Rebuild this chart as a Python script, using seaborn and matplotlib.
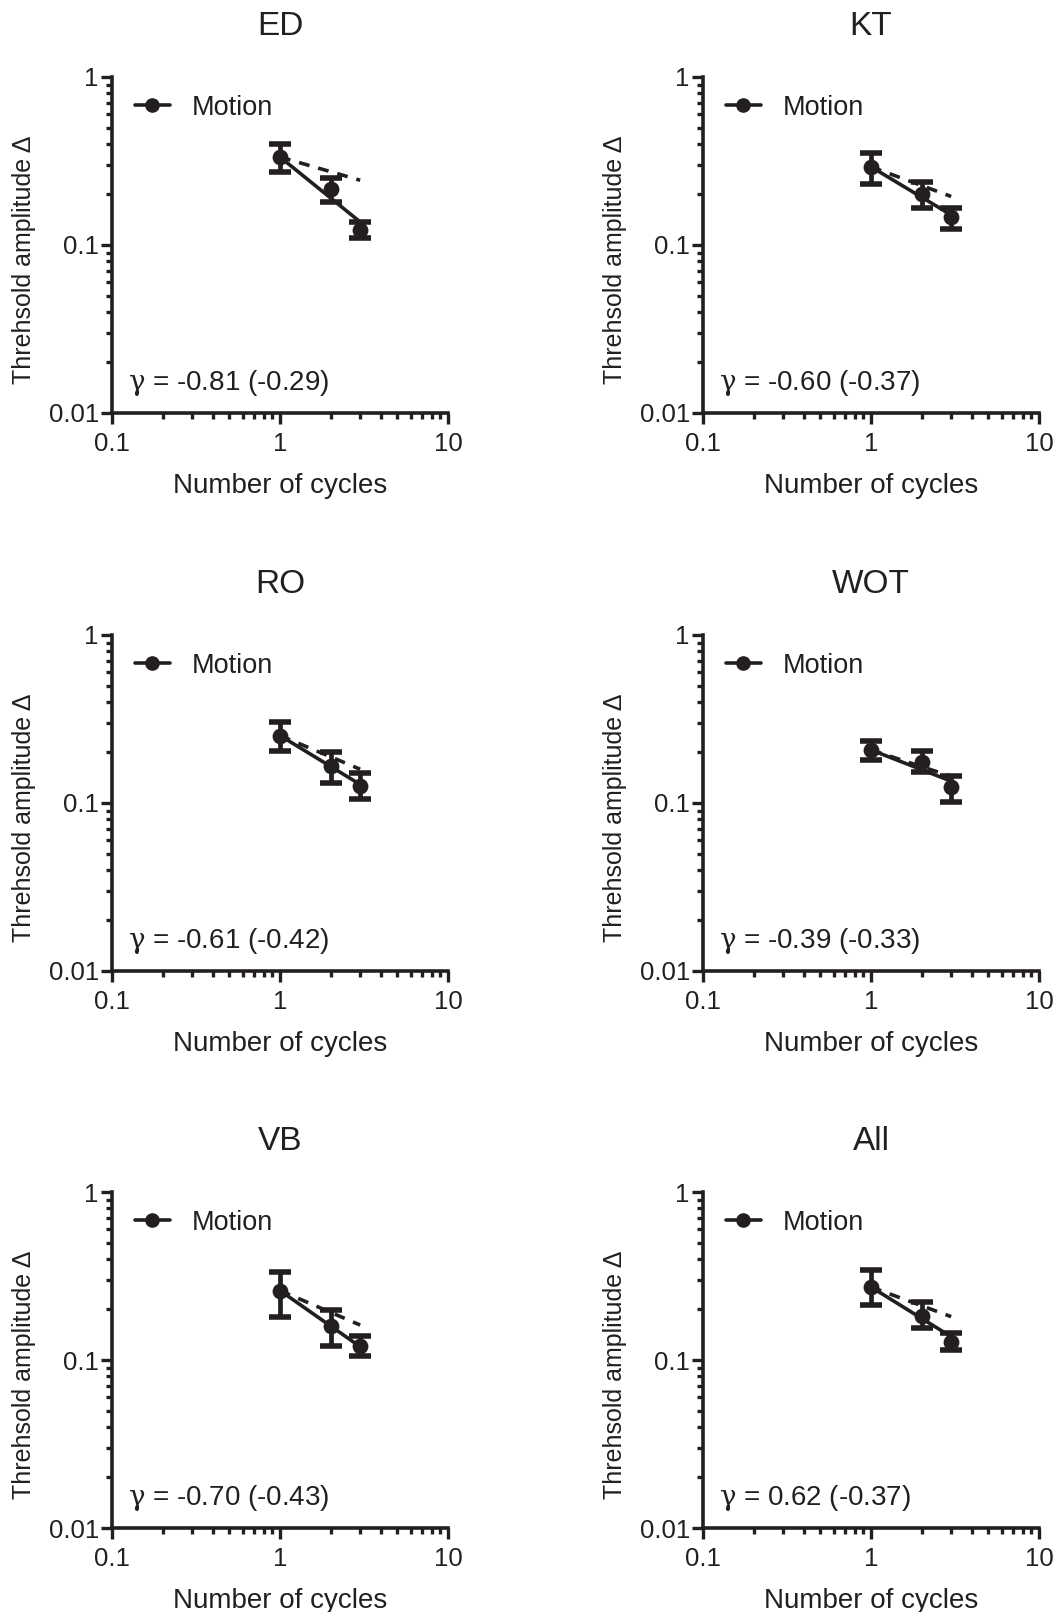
import numpy as np
import pandas as pd
import matplotlib
matplotlib.use("Agg")
import matplotlib.pyplot as plt
import seaborn as sns
from matplotlib.lines import Line2D
from matplotlib.ticker import LogLocator, FixedLocator, FixedFormatter, NullFormatter

sns.set_theme(style="ticks")
plt.rcParams['font.family'] = ['Liberation Sans', 'DejaVu Sans']
plt.rcParams['mathtext.fontset'] = 'custom'
plt.rcParams['mathtext.it'] = 'DejaVu Serif'
plt.rcParams['mathtext.rm'] = 'Liberation Sans'

INK = '#231f20'

panels = ['ED', 'KT', 'RO', 'WOT', 'VB', 'All']
cycles = [1, 2, 3]
means = {
    'ED':  [0.334, 0.215, 0.123],
    'KT':  [0.292, 0.201, 0.146],
    'RO':  [0.252, 0.166, 0.126],
    'WOT': [0.207, 0.175, 0.124],
    'VB':  [0.259, 0.159, 0.121],
    'All': [0.272, 0.184, 0.128],
}
upper = {
    'ED':  [0.400, 0.250, 0.137],
    'KT':  [0.353, 0.237, 0.166],
    'RO':  [0.303, 0.201, 0.151],
    'WOT': [0.234, 0.204, 0.145],
    'VB':  [0.336, 0.199, 0.139],
    'All': [0.345, 0.222, 0.145],
}
lower = {
    'ED':  [0.272, 0.180, 0.110],
    'KT':  [0.231, 0.166, 0.124],
    'RO':  [0.204, 0.131, 0.106],
    'WOT': [0.180, 0.153, 0.101],
    'VB':  [0.180, 0.121, 0.106],
    'All': [0.212, 0.155, 0.114],
}
gamma = {'ED': -0.81, 'KT': -0.60, 'RO': -0.61, 'WOT': -0.39, 'VB': -0.70, 'All': -0.62}
gamma_ref = {'ED': -0.29, 'KT': -0.37, 'RO': -0.42, 'WOT': -0.33, 'VB': -0.43, 'All': -0.37}
gamma_text = {
    'ED': '-0.81 (-0.29)', 'KT': '-0.60 (-0.37)', 'RO': '-0.61 (-0.42)',
    'WOT': '-0.39 (-0.33)', 'VB': '-0.70 (-0.43)', 'All': '0.62 (-0.37)',
}
fit_range = [1, 3]

FS_LAB = 19.5
FS_XLAB = 20
FS_TITLE = 24
FS_Y = 18
FS_TICK = 18.5
W, H = 1055, 1612
fig = plt.figure(figsize=(W / 100, H / 100), dpi=100)

col_x = [112, 703]
row_bottom = [413, 971, 1528]
size = 336

for i, name in enumerate(panels):
    r, c = divmod(i, 2)
    left = col_x[c] / W
    bottom = 1 - row_bottom[r] / H
    ax = fig.add_axes([left, bottom, size / W, size / H])
    ax.set_xscale('log')
    ax.set_yscale('log')
    ax.set_xlim(0.1, 10)
    ax.set_ylim(0.01, 1)

    m = np.array(means[name])
    up = np.array(upper[name])
    lo = np.array(lower[name])
    df = pd.DataFrame({'x': cycles, 'y': m})

    # fitted power-law lines
    a = m[0]
    xf = np.array(fit_range, dtype=float)
    fit_df = pd.DataFrame({'x': xf, 'y': a * xf ** gamma[name]})
    ref_df = pd.DataFrame({'x': xf, 'y': a * xf ** gamma_ref[name]})
    sns.lineplot(data=ref_df, x='x', y='y', ax=ax, color=INK, lw=2.6,
                 linestyle=(0, (3, 2.5)), zorder=2, legend=False)
    sns.lineplot(data=fit_df, x='x', y='y', ax=ax, color=INK, lw=2.6, zorder=2, legend=False)

    ax.errorbar(cycles, m, yerr=[m - lo, up - m], fmt='none', ecolor=INK,
                elinewidth=3.4, capsize=8, capthick=4, zorder=3)
    sns.scatterplot(data=df, x='x', y='y', ax=ax, color=INK, s=130,
                    edgecolor=INK, linewidth=0, zorder=4, legend=False)

    h = Line2D([], [], color=INK, lw=2.6, marker='o', markersize=9.5)
    ax.legend([h], ['Motion'], loc='center left', bbox_to_anchor=(0.068, 0.908),
              frameon=False, fontsize=FS_LAB, handlelength=1.3, handletextpad=0.8,
              borderpad=0, borderaxespad=0, labelcolor=INK)

    ax.text(0.048, 0.09, r'$\gamma$ = ' + gamma_text[name], transform=ax.transAxes,
            fontsize=FS_LAB + 0.5, ha='left', va='center', color=INK)
    ax.text(0.5, 1.15, name, transform=ax.transAxes, fontsize=FS_TITLE,
            ha='center', va='center', color=INK)

    ax.set_xlabel('Number of cycles', fontsize=FS_XLAB, color=INK)
    ax.set_ylabel('Threhsold amplitude Δ', fontsize=FS_Y, color=INK)
    ax.xaxis.set_label_coords(0.5, -0.178)
    ax.yaxis.set_label_coords(-0.227, 0.457)

    ax.xaxis.set_major_locator(FixedLocator([0.1, 1, 10]))
    ax.xaxis.set_major_formatter(FixedFormatter(['0.1', '1', '10']))
    ax.yaxis.set_major_locator(FixedLocator([0.01, 0.1, 1]))
    ax.yaxis.set_major_formatter(FixedFormatter(['0.01', '0.1', '1']))
    ax.xaxis.set_minor_locator(LogLocator(base=10, subs=np.arange(2, 10), numticks=10))
    ax.yaxis.set_minor_locator(LogLocator(base=10, subs=np.arange(2, 10), numticks=10))
    ax.xaxis.set_minor_formatter(NullFormatter())
    ax.yaxis.set_minor_formatter(NullFormatter())

    ax.tick_params(which='major', length=8, width=2.4, labelsize=FS_TICK, color=INK,
                   labelcolor=INK, direction='out')
    ax.tick_params(axis='x', which='major', pad=6)
    ax.tick_params(axis='y', which='major', pad=1.5)
    ax.tick_params(which='minor', length=4.5, width=2.4, color=INK, direction='out')
    for s in ['top', 'right']:
        ax.spines[s].set_visible(False)
    for s in ['left', 'bottom']:
        ax.spines[s].set_linewidth(2.6)
        ax.spines[s].set_color(INK)
    ax.set_facecolor('white')
    ax.grid(False)

fig.savefig('out.png', dpi=100, facecolor='white')
